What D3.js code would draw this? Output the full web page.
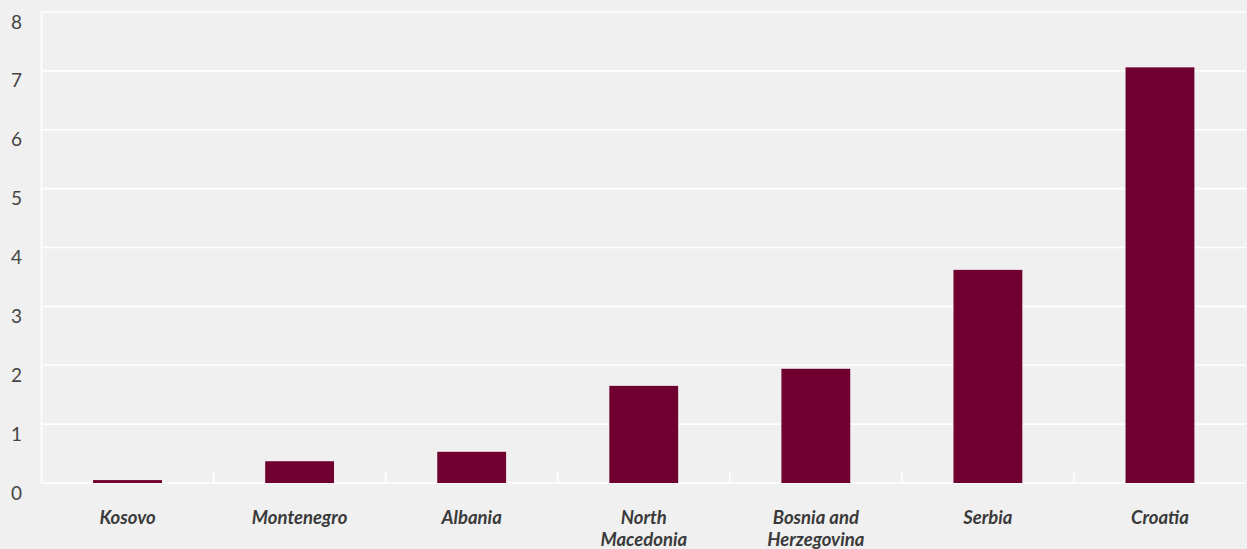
<!DOCTYPE html>
<html><head><meta charset="utf-8">
<script src="https://cdn.jsdelivr.net/npm/d3@7"></script>
<style>
html,body{margin:0;padding:0;background:#f0f0f0;}
svg{display:block;}
</style></head>
<body>
<svg id="chart" width="1247" height="549"></svg>
<script>
const categories = ["Kosovo","Montenegro","Albania","North Macedonia","Bosnia and Herzegovina","Serbia","Croatia"];
const categoryLines = [["Kosovo"],["Montenegro"],["Albania"],["North","Macedonia"],["Bosnia and","Herzegovina"],["Serbia"],["Croatia"]];
const values = [0.05, 0.37, 0.53, 1.65, 1.94, 3.62, 7.06];
const yTicks = [0,1,2,3,4,5,6,7,8];

const W = 1247, H = 549;
const m = {left: 41.5, right: 1, top: 12, bottom: 66};
const svg = d3.select("#chart");
svg.append("rect").attr("width", W).attr("height", H).attr("fill", "#f0f0f0");

const x = d3.scaleBand().domain(categories).range([m.left, W - m.right]).paddingInner(0.6).paddingOuter(0.3);
const y = d3.scaleLinear().domain([0, 8]).range([H - m.bottom, m.top]);

// gridlines
svg.append("g").selectAll("line").data(yTicks).join("line")
  .attr("x1", m.left).attr("x2", W - m.right)
  .attr("y1", d => y(d)).attr("y2", d => y(d))
  .attr("stroke", "#ffffff").attr("stroke-width", 1.6);

// left axis line
svg.append("line").attr("x1", m.left).attr("x2", m.left)
  .attr("y1", y(8)).attr("y2", y(0)).attr("stroke", "#ffffff").attr("stroke-width", 1.6);

// y labels
svg.append("g").selectAll("text").data(yTicks).join("text")
  .attr("x", 16.5).attr("y", d => y(d) + 9)
  .attr("text-anchor", "middle").attr("dominant-baseline", "central")
  .attr("font-family", "Lato, 'Open Sans', sans-serif").attr("font-size", 19)
  .attr("fill", "#444").text(d => d);

// category boundary ticks
const step = x.step();
const bounds = d3.range(1, categories.length).map(i => x(categories[i]) - x.paddingInner() * step / 2);
svg.append("g").selectAll("line").data(bounds).join("line")
  .attr("x1", d => d).attr("x2", d => d)
  .attr("y1", y(0) - 11).attr("y2", y(0))
  .attr("stroke", "#ffffff").attr("stroke-width", 1.6);

// bars
svg.append("g").selectAll("rect").data(values).join("rect")
  .attr("x", (d, i) => x(categories[i]))
  .attr("width", x.bandwidth())
  .attr("y", d => y(d))
  .attr("height", d => y(0) - y(d))
  .attr("fill", "#700030");

// category labels
const lbl = svg.append("g").selectAll("text").data(categoryLines).join("text")
  .attr("text-anchor", "middle")
  .attr("font-family", "Lato, 'Open Sans', sans-serif")
  .attr("font-size", 18.5).attr("font-weight", "bold").attr("font-style", "italic")
  .attr("fill", "#3a3a3a")
  .attr("transform", (d, i) => `translate(${x(categories[i]) + x.bandwidth() / 2},${y(0) + 41})`);
lbl.selectAll("tspan").data(d => d).join("tspan")
  .attr("x", 0).attr("dy", (d, j) => j === 0 ? 0 : 22).text(d => d);
</script>
</body></html>
